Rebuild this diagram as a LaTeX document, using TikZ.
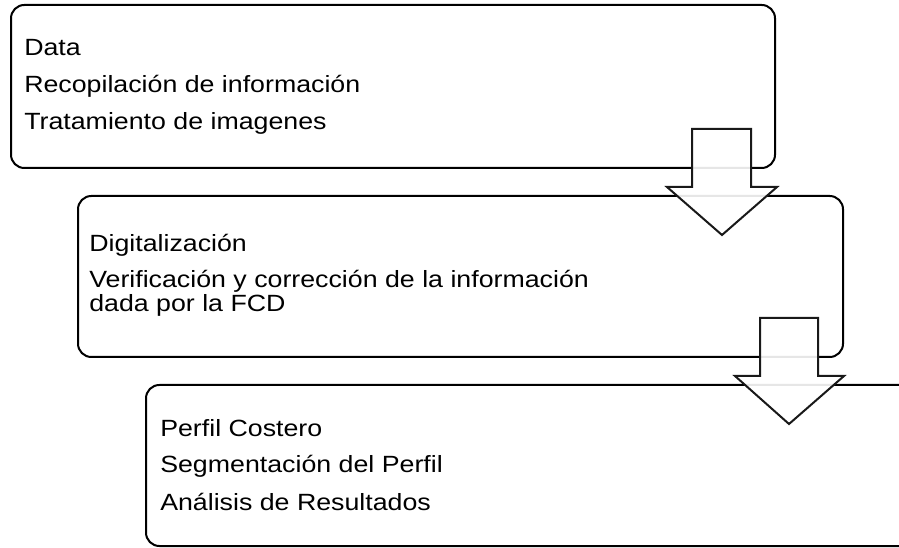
\documentclass[tikz,border=0pt]{standalone}
\usepackage{fontspec}
\setmainfont[FakeStretch=1.14]{Liberation Sans}
\begin{document}
\begin{tikzpicture}[x=0.75pt,y=-0.75pt,
  box/.style={draw=black,line width=1.5pt,rounded corners=10pt,fill=white},
  txt/.style={anchor=base west,inner sep=0pt,font=\fontsize{17.6}{18.4}\selectfont},
  blockarrow/.style={draw=black!90,line width=1.5pt,fill=white,fill opacity=0.9,line join=miter}]
\useasboundingbox (0,0) rectangle (899,548);
\clip (0,0) rectangle (899,548);
% boxes
\draw[box] (11,5) rectangle (775,168);
\node[inner sep=0pt] (b1) at (393,86) {};
\draw[box] (78,196) rectangle (843,357);
\node[inner sep=0pt] (b2) at (460,276) {};
\draw[box] (146,385) rectangle (940,546);
\node[inner sep=0pt] (b3) at (540,465) {};
% texts
\node[txt] (t11) at (24,56) {Data};
\node[txt] (t12) at (24,93) {Recopilación de información};
\node[txt] (t13) at (24,130) {Tratamiento de imagenes};
\node[txt] (t21) at (89,252) {Digitalización};
\node[txt] (t22) at (89,288) {Verificación y corrección de la información};
\node[txt] (t23) at (89,312) {dada por la FCD};
\node[txt] (t31) at (160,437) {Perfil Costero};
\node[txt] (t32) at (160,473) {Segmentación del Perfil};
\node[txt] (t33) at (160,510) {Análisis de Resultados};
% block arrows
\draw[blockarrow] (692,129) -- (751,129) -- (751,187) -- (777,187) -- (722,235) -- (667,187) -- (692,187) -- cycle;
\draw[blockarrow] (760,318) -- (818,318) -- (818,376) -- (844,376) -- (789,424) -- (735,376) -- (760,376) -- cycle;
\end{tikzpicture}
\end{document}
